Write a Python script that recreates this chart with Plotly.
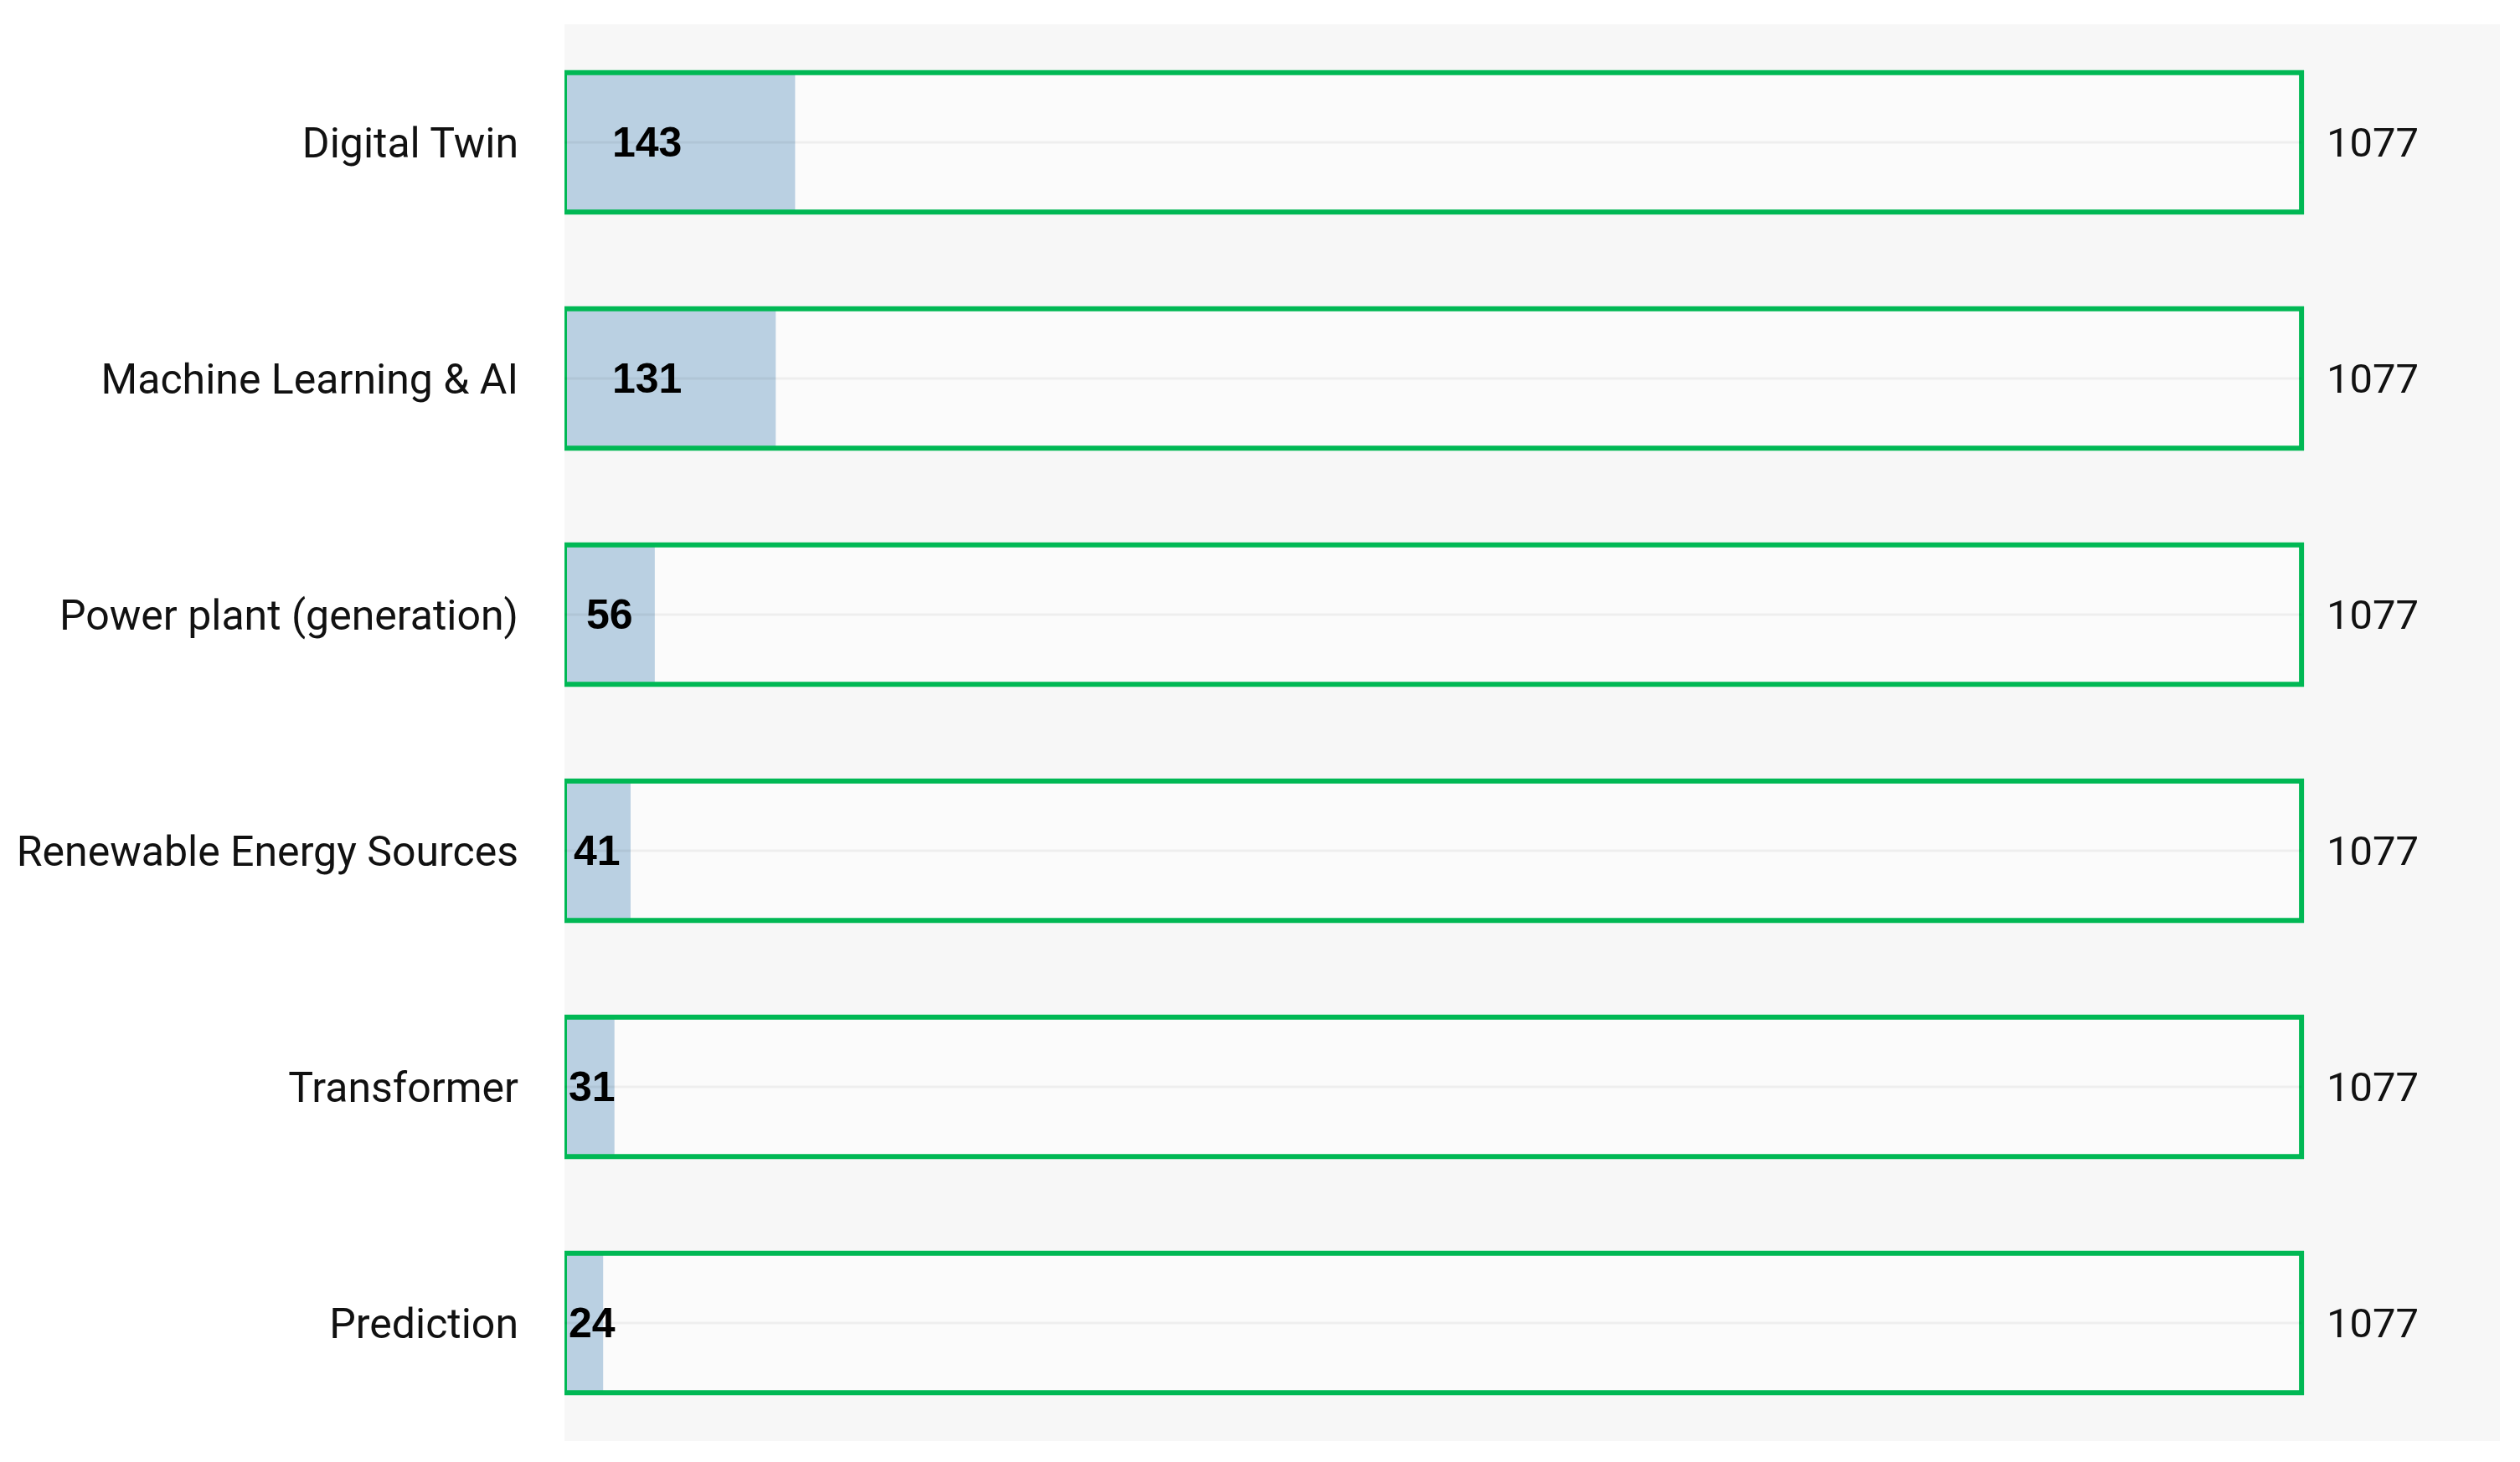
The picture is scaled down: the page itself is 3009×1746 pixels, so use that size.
import plotly.graph_objects as go
import numpy as np

# data
topics = ["Digital Twin", "Machine Learning & AI", "Power plant (generation)",
          "Renewable Energy Sources", "Transformer", "Prediction"]
counts = [143, 131, 56, 41, 31, 24]
totals = [1077, 1077, 1077, 1077, 1077, 1077]

bar_w = 0.59
green = "#00B854"
blue = "#BAD0E2"

fig = go.Figure()

# background of the total box (a bit lighter than the plot bg)
fig.add_trace(go.Bar(y=topics, x=totals, orientation="h", width=bar_w,
                     marker=dict(color="rgba(255,255,255,0.45)", line=dict(width=0)),
                     hoverinfo="skip", showlegend=False))

# counts
fig.add_trace(go.Bar(y=topics, x=counts, orientation="h", width=bar_w,
                     marker=dict(color=blue, line=dict(width=0)),
                     showlegend=False))

# faint centre line inside each box
cx, cy = [], []
for t, tot in zip(topics, totals):
    cx += [0, tot, None]
    cy += [t, t, None]
fig.add_trace(go.Scatter(x=cx, y=cy, mode="lines", line=dict(color="rgba(0,0,0,0.05)", width=3),
                         hoverinfo="skip", showlegend=False))

# green outline of the total
fig.add_trace(go.Bar(y=topics, x=totals, orientation="h", width=bar_w,
                     marker=dict(color="rgba(0,0,0,0)", line=dict(color=green, width=6)),
                     hoverinfo="skip", showlegend=False))

# count labels, centred in the bar but kept near the start for long bars
label_x = np.clip(np.array(counts) / 2, 17, 51)
for t, c, lx in zip(topics, counts, label_x):
    fig.add_annotation(x=lx, y=t, text="<b>%d</b>" % c, showarrow=False, xanchor="center",
                       yanchor="middle",
                       font=dict(family="Liberation Sans, Arial, sans-serif", size=50, color="#000000"))

# total labels to the right of the box
for t, tot in zip(topics, totals):
    fig.add_annotation(x=tot, y=t, text=str(tot), showarrow=False, xanchor="left",
                       xshift=28, font=dict(family="Roboto, Liberation Sans, sans-serif", size=49, color="#111111"))

# page body adds 8px, so margins are trimmed to land the plot where the reference has it
fig.update_layout(
    barmode="overlay",
    width=3009, height=1746,
    margin=dict(l=664, r=32, t=21, b=33),
    paper_bgcolor="white",
    plot_bgcolor="#f7f7f7",
)
fig.update_xaxes(range=[0, 1200], showgrid=False, zeroline=False, showticklabels=False)
fig.update_yaxes(autorange="reversed", showgrid=False, ticks="outside", ticklen=44,
                 tickcolor="rgba(0,0,0,0)",
                 tickfont=dict(family="Roboto, Liberation Sans, sans-serif", size=50, color="#111111"))

fig.write_html("out.html")
